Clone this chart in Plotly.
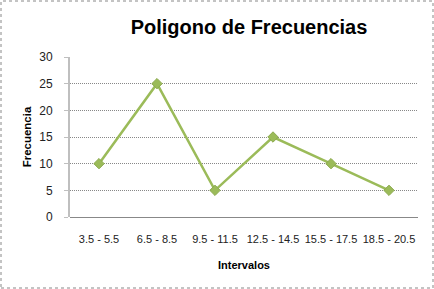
import plotly.graph_objects as go

intervalos = ["3.5 - 5.5", "6.5 - 8.5", "9.5 - 11.5", "12.5 - 14.5", "15.5 - 17.5", "18.5 - 20.5"]
frecuencia = [10, 25, 5, 15, 10, 5]

W, H = 434, 289
L, R, T, B = 70, 16, 57, 72
pw, ph = W - L - R, H - T - B

fig = go.Figure()
fig.add_trace(go.Scatter(
    x=intervalos, y=frecuencia, mode="lines+markers",
    line=dict(color="#9BBB59", width=2.5),
    marker=dict(symbol="diamond", size=8, color="#9BBB59", line=dict(color="#8CAA4E", width=1)),
    showlegend=False))

fig.update_layout(
    width=W, height=H,
    margin=dict(l=L, r=R, t=T, b=B, autoexpand=False),
    paper_bgcolor="white", plot_bgcolor="white",
    font=dict(family="Liberation Sans, Arial", color="#222"),
    title=dict(text="<b>Poligono de Frecuencias</b>", x=(249) / W, xanchor="center",
               y=1 - 27 / H, yanchor="middle", font=dict(size=20, color="#000")),
    xaxis=dict(type="category", range=[-0.5, 5.5], showgrid=False, showline=False,
               automargin=False, tickangle=0,
               ticks="", ticklabelstandoff=14, tickfont=dict(size=11, color="#222"),
               title=dict(text="<b>Intervalos</b>", font=dict(size=11, color="#000"), standoff=17)),
    yaxis=dict(range=[0, 30], dtick=5, showgrid=True, gridcolor="#888", griddash="1px,1px",
               gridwidth=1, zeroline=True, zerolinecolor="#888", zerolinewidth=1,
               showline=True, linecolor="#BFBFBF", linewidth=2, automargin=False,
               ticks="outside", ticklen=4, tickcolor="#BFBFBF", ticklabelstandoff=9,
               tickfont=dict(size=12, color="#222"),
               title=dict(text="<b>Frecuencia</b>", font=dict(size=11.5, color="#000"), standoff=5)),
    shapes=[dict(type="rect", xref="paper", yref="paper",
                 x0=-(L - 1) / pw, x1=1 + (R - 1) / pw,
                 y0=-(B - 1) / ph, y1=1 + (T - 1) / ph,
                 line=dict(color="#888", width=1, dash="dot"), fillcolor="rgba(0,0,0,0)")],
)

fig.write_html("out.html")
